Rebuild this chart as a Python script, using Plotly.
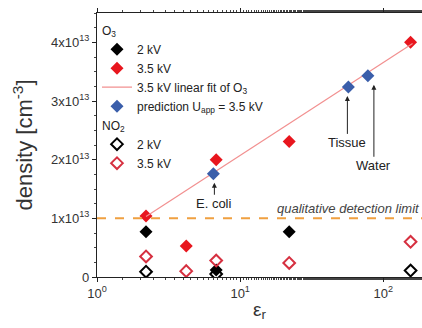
import math
import plotly.graph_objects as go

# ---- data ----
o3_x = [2.2, 4.2, 6.8, 22, 155]
o3_2kv = [0.77e13, None, 0.12e13, 0.77e13, None]
o3_35kv = [1.04e13, 0.53e13, 2.0e13, 2.31e13, 4.0e13]
fit_x = [2.2, 160]
fit_y = [1.03e13, 3.98e13]
pred_x = [6.5, 57, 78]
pred_y = [1.76e13, 3.24e13, 3.43e13]
pred_labels = ["E. coli", "Tissue", "Water"]
no2_2kv = [0.09e13, None, 0.05e13, None, 0.11e13]
no2_35kv = [0.35e13, 0.1e13, 0.28e13, 0.24e13, 0.6e13]
detect_limit = 1e13
y_ticks = [0, 1e13, 2e13, 3e13, 4e13]
y_ticktext = ["0", "1x10<sup>13</sup>", "2x10<sup>13</sup>", "3x10<sup>13</sup>", "4x10<sup>13</sup>"]
x_ticks = [1, 10, 100]
x_ticktext = ["10<sup>0</sup>", "10<sup>1</sup>", "10<sup>2</sup>"]

RED = "#e8161e"
RED_OPEN = "#d63040"
BLUE = "#3a5eaa"
FONT = "Liberation Sans, Arial, sans-serif"

fig = go.Figure()

fig.add_trace(go.Scatter(x=o3_x, y=o3_2kv, mode="markers", name="2 kV",
                         legendgroup="o3", legendgrouptitle_text="O<sub>3</sub>",
                         marker=dict(symbol="diamond", size=10, color="black")))
fig.add_trace(go.Scatter(x=o3_x, y=o3_35kv, mode="markers", name="3.5 kV",
                         legendgroup="o3",
                         marker=dict(symbol="diamond", size=10, color=RED)))
fig.add_trace(go.Scatter(x=fit_x, y=fit_y, mode="lines", name="3.5 kV linear fit of O<sub>3</sub>",
                         legendgroup="o3",
                         line=dict(color="#f29090", width=1.2)))
fig.add_trace(go.Scatter(x=pred_x, y=pred_y, mode="markers",
                         name="prediction U<sub>app</sub> = 3.5 kV",
                         legendgroup="o3",
                         marker=dict(symbol="diamond", size=10, color=BLUE)))
fig.add_trace(go.Scatter(x=o3_x, y=no2_2kv, mode="markers", name="2 kV",
                         legendgroup="no2", legendgrouptitle_text="NO<sub>2</sub>",
                         marker=dict(symbol="diamond-open", size=9, color="black",
                                     line=dict(width=2, color="black"))))
fig.add_trace(go.Scatter(x=o3_x, y=no2_35kv, mode="markers", name="3.5 kV",
                         legendgroup="no2",
                         marker=dict(symbol="diamond-open", size=9, color=RED_OPEN,
                                     line=dict(width=2, color=RED_OPEN))))

fig.add_hline(y=detect_limit, line=dict(color="#f0a040", width=2, dash="dash"))
fig.add_annotation(x=1, xref="paper", y=detect_limit, yref="y", text="<i>qualitative detection limit</i>",
                   showarrow=False, xanchor="right", yanchor="bottom", yshift=0,
                   font=dict(size=13, color="#444", family=FONT))

# arrows for predictions: (index, text offset y px, text offset x px)
arrow_cfg = [(0, 30, 1), (1, 56, -1), (2, 90, 6)]
for i, ay, axx in arrow_cfg:
    fig.add_annotation(x=math.log10(pred_x[i]) + axx / 143.0, y=pred_y[i], text=pred_labels[i],
                       showarrow=True, arrowhead=2, arrowsize=1, arrowwidth=1,
                       arrowcolor="#222", ax=0, ay=ay, standoff=9,
                       font=dict(size=13, color="#222", family=FONT))

fig.update_layout(
    width=422, height=328,
    margin=dict(l=97, r=0, t=13, b=51),
    paper_bgcolor="white", plot_bgcolor="white",
    font=dict(family=FONT, color="#222"),
    showlegend=True,
    legend=dict(x=0.0, y=0.99, xanchor="left", yanchor="top",
                bgcolor="rgba(0,0,0,0)", font=dict(size=12, color="#222"),
                grouptitlefont=dict(size=12, color="#222"),
                tracegroupgap=0),
    xaxis=dict(type="log", range=[0, 2.27], tickvals=x_ticks, ticktext=x_ticktext,
               showline=True, linecolor="#222", linewidth=1.2, mirror="ticks",
               ticks="outside", ticklen=4, tickwidth=1, tickcolor="#222", showgrid=False, zeroline=False,
               minor=dict(ticks="outside", ticklen=2, tickwidth=1, tickcolor="#444", showgrid=False),
               tickfont=dict(size=13, color="#333"),
               title=dict(text="ε<sub>r</sub>", font=dict(size=19, color="#333"), standoff=2)),
    yaxis=dict(range=[0, 4.5e13], tickvals=y_ticks, ticktext=y_ticktext,
               showline=True, linecolor="#222", linewidth=1.2,
               ticks="outside", ticklen=4, tickwidth=1, tickcolor="#222", showgrid=False, zeroline=False,
               minor=dict(dtick=0.25e13, ticks="outside", ticklen=2, tickwidth=1, tickcolor="#444", showgrid=False),
               tickfont=dict(size=13, color="#333"),
               title=dict(text="density [cm<sup>-3</sup>]", font=dict(size=22, color="#333"), standoff=12)),
)

fig.write_html("out.html", post_script="document.body.style.margin='0';",
               config={"displayModeBar": False})
